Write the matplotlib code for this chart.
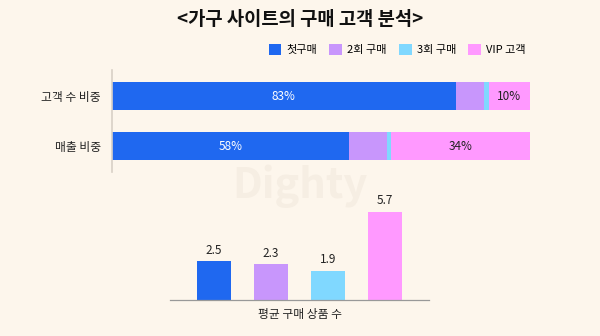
import numpy as np
import matplotlib.pyplot as plt

plt.rcParams['font.family'] = ['Noto Sans CJK KR', 'DejaVu Sans']

# data
segments = ["첫구매", "2회 구매", "3회 구매", "VIP 고객"]
rows = ["고객 수 비중", "매출 비중"]
share_customers = [83, 7, 1, 10]
share_sales = [58, 9.5, 1, 34]
avg_items = [2.5, 2.3, 1.9, 5.7]

colors = ["#1F68F0", "#C896FC", "#80D8FF", "#FF99FF"]
bg = "#FDF6EC"

fig = plt.figure(figsize=(6, 3.36), dpi=100, facecolor=bg)

fig.text(0.5, 0.943, "<가구 사이트의 구매 고객 분석>", ha='center', va='center',
         fontsize=13.5, fontweight='bold', color='#111111')
fig.text(0.5, 0.445, "Dighty", ha='center', va='center', fontsize=30,
         fontweight='bold', color='#F6EEE3', zorder=0)

# stacked horizontal bars
ax1 = fig.add_axes([112 / 600, 1 - 172 / 336, 418 / 600, 102 / 336])
ax1.set_facecolor('none')
data = np.array([share_customers, share_sales], dtype=float)
data = data / data.sum(axis=1, keepdims=True) * 100
ypos = [0, 1]
left = np.zeros(2)
for k in range(len(segments)):
    ax1.barh(ypos, data[:, k], left=left, height=0.56, color=colors[k],
             label=segments[k])
    left += data[:, k]

raw = [share_customers, share_sales]
for i in range(2):
    ax1.text(data[i, 0] / 2, ypos[i], f"{raw[i][0]:.0f}%", ha='center', va='center',
             color='white', fontsize=8.5)
    ax1.text(100 - data[i, 3] / 2, ypos[i], f"{raw[i][3]:.0f}%", ha='center',
             va='center', color='#222222', fontsize=8.5)

ax1.set_xlim(0, 100)
ax1.set_ylim(1.52, -0.52)
ax1.set_yticks(ypos)
ax1.set_yticklabels(rows, fontsize=8.5, color='#222222')
ax1.tick_params(axis='y', length=0, pad=8)
ax1.set_xticks([])
for s in ['top', 'right', 'bottom']:
    ax1.spines[s].set_visible(False)
ax1.spines['left'].set_color('#D8D0C6')
ax1.spines['left'].set_linewidth(1.2)

leg = ax1.legend(loc='lower right', bbox_to_anchor=(1.0, 1.1), ncol=4, frameon=False,
                 fontsize=8, handlelength=1.15, handleheight=1.15, handletextpad=0.45,
                 columnspacing=1.1, borderaxespad=0)

# average items bar chart
ax2 = fig.add_axes([170 / 600, 1 - 300 / 336, 259 / 600, 110 / 336])
ax2.set_facecolor('none')
x = np.arange(len(avg_items))
ax2.bar(x, avg_items, width=0.6, color=colors)
for xi, v in zip(x, avg_items):
    ax2.text(xi, v + 0.3, f"{v}", ha='center', va='bottom', fontsize=8.5, color='#222222')
ax2.set_xlim(-0.77, 3.77)
ax2.set_ylim(0, 7.1)
ax2.set_xticks([])
ax2.set_yticks([])
for s in ['top', 'right', 'left']:
    ax2.spines[s].set_visible(False)
ax2.spines['bottom'].set_color('#999999')
ax2.spines['bottom'].set_linewidth(0.9)
ax2.set_xlabel("평균 구매 상품 수", fontsize=8.5, color='#222222', labelpad=6)

fig.savefig('out.png', dpi=100, facecolor=bg)
